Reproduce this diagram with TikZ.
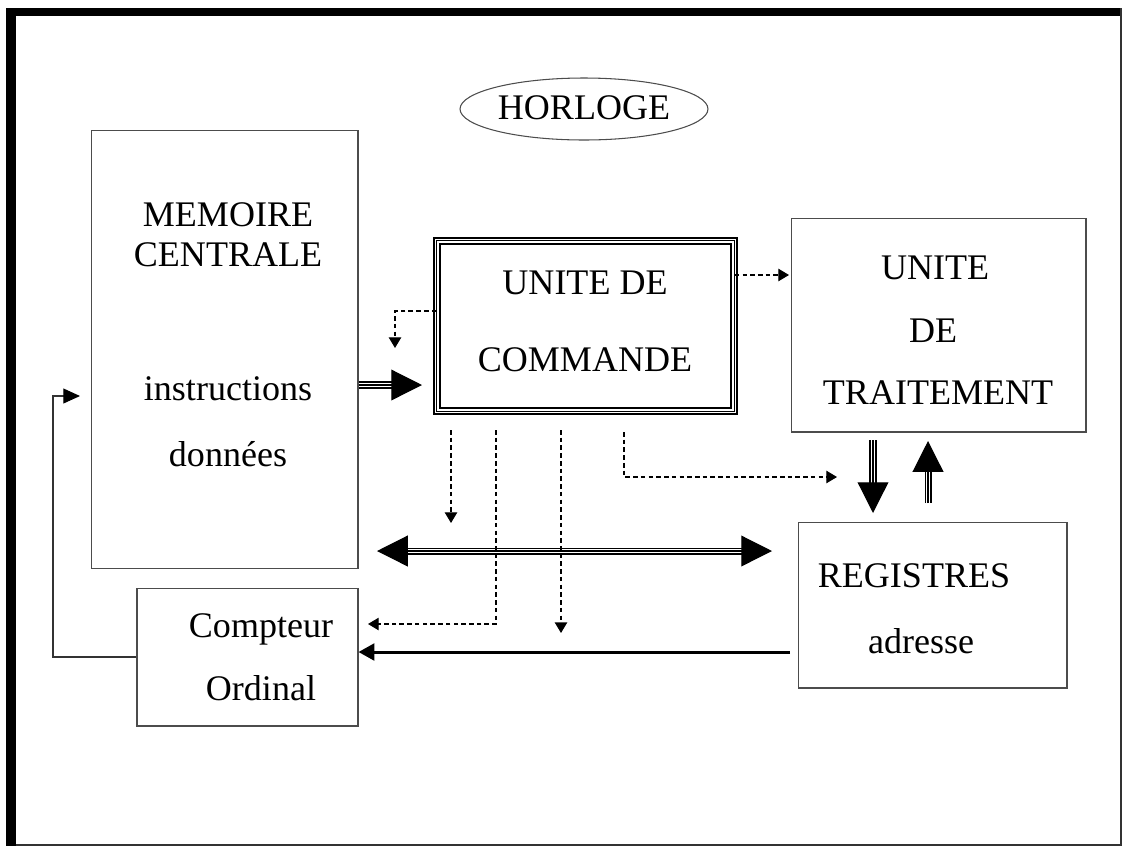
\documentclass[tikz,border=0pt]{standalone}
\usepackage{fontspec}
\setmainfont{Liberation Serif}
\usetikzlibrary{arrows.meta,shapes.geometric}
\begin{document}
\begin{tikzpicture}[x=0.02cm,y=-0.02cm]
          \tikzstyle{unit}=[rectangle,draw=black!70,line width=0.6pt,inner sep=0pt]
          \tikzstyle{cmdunit}=[rectangle,draw,double,double distance=2.6pt,line width=0.9pt,inner sep=0pt]
          \tikzstyle{txt}=[font=\fontsize{20.5}{24}\selectfont,anchor=base,inner sep=0pt]
          \tikzstyle{ctrl}=[draw,line width=0.6pt,dash pattern=on 2.6pt off 1.8pt,-{Triangle[length=6pt,width=7pt]}]
          \tikzstyle{bus}=[draw,double=white,double distance=2.6pt,line width=0.7pt]
          \tikzstyle{bushead}=[draw,line width=0.7pt,-{Triangle[length=17.5pt,width=17.5pt]}]
          \tikzstyle{addr}=[draw,line width=1.7pt,-{Triangle[length=9pt,width=9.5pt]}]
          \tikzstyle{loop}=[draw=black!80,line width=0.6pt,-{Triangle[length=9.5pt,width=8.5pt,fill=black,color=black]}]
          \useasboundingbox (0,0) rectangle (1125,846);
          \fill (6,8) rectangle (1122,16);
          \fill (6,8) rectangle (16,846);
          \draw[black!80,line width=1.1pt] (1121,8) -- (1121,845) -- (16,845);
          \begin{scope}
             \node [ellipse,draw=black!70,line width=0.6pt,minimum width=4.96cm,minimum height=1.24cm] (clk) at (584,109) {};
             \node [txt] (clktxt) at (584,119) {HORLOGE};
             \node [unit,minimum width=5.34cm,minimum height=8.78cm] (mem) at (224.5,349.5) {};
             \node [txt] (mem1) at (228,226) {MEMOIRE};
             \node [txt] (mem2) at (228,266) {CENTRALE};
             \node [txt] (mem3) at (228,400) {instructions};
             \node [txt] (mem4) at (228,466) {données};
             \node [cmdunit,minimum width=5.94cm,minimum height=3.4cm] (cmd) at (585.5,326) {};
             \node [txt] (cmd1) at (585,294) {UNITE DE};
             \node [txt] (cmd2) at (585,371) {COMMANDE};
             \node [unit,minimum width=5.9cm,minimum height=4.28cm] (trt) at (938.5,325) {};
             \node [txt] (trt1) at (935,279) {UNITE};
             \node [txt] (trt2) at (933,342) {DE};
             \node [txt] (trt3) at (938,404) {TRAITEMENT};
             \node [unit,minimum width=5.38cm,minimum height=3.32cm] (reg) at (932.5,605) {};
             \node [txt] (reg1) at (914,587) {REGISTRES};
             \node [txt] (reg2) at (921,653) {adresse};
             \node [unit,minimum width=4.42cm,minimum height=2.76cm] (cpt) at (247.5,657) {};
             \node [txt] (cpt1) at (261,637) {Compteur};
             \node [txt] (cpt2) at (261,700) {Ordinal};
             \draw [line width=0.7pt] (cmd.south west) rectangle (cmd.north east);
             \coordinate (cin) at (422,385);
             \coordinate (busL) at (377,551);
             \coordinate (busR) at (772,551);
             \coordinate (dn1) at (873,440);
             \coordinate (dn2) at (873,513);
             \coordinate (up1) at (928,503);
             \coordinate (up2) at (928,441);
             \coordinate (rg) at (790,652);
             \coordinate (fbc) at (53,396);
             \coordinate (fbt) at (80,396);
             \coordinate (c1) at (395,348);
             \coordinate (c2) at (789,275);
             \coordinate (v1) at (451,430);
             \coordinate (v1e) at (451,523);
             \coordinate (v2) at (496,430);
             \coordinate (v2e) at (368,624);
             \coordinate (v3) at (561,430);
             \coordinate (v3e) at (561,633);
             \coordinate (v4) at (624,432);
             \coordinate (v4e) at (837,477);
             \path[bus,shorten >=12pt] (mem.east |- cin) -- (cin);
             \path[bushead] (mem.east |- cin) -- (cin);
             \path[bus,shorten >=12pt,shorten <=12pt] (busL) -- (busR);
             \path[bushead,{Triangle[length=17.5pt,width=17.5pt]}-{Triangle[length=17.5pt,width=17.5pt]}] (busL) -- (busR);
             \path[bus,shorten >=12pt] (dn1) -- (dn2);
             \path[bushead] (dn1) -- (dn2);
             \path[bus,shorten >=12pt] (up1) -- (up2);
             \path[bushead] (up1) -- (up2);
             \path[addr] (rg) -- (cpt.east |- rg);
             \path[loop] (cpt.west) -| (fbc) -- (fbt);
             \path[ctrl] ([yshift=0.3cm]cmd.west) -| (c1);
             \path[ctrl] (cmd.east |- c2) -- (c2);
             \path[ctrl] (v1) -- (v1e);
             \path[ctrl] (v2) |- (v2e);
             \path[ctrl] (v3) -- (v3e);
             \path[ctrl] (v4) |- (v4e);
          \end{scope}
        \end{tikzpicture}
\end{document}
